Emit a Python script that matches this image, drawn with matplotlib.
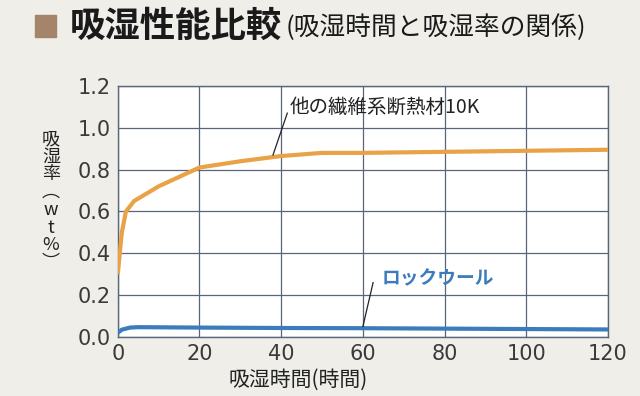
import numpy as np
from matplotlib import pyplot as plt
from matplotlib.patches import Rectangle

# hours of moisture absorption vs. absorption rate (wt%)
hours_fiber = [0, 1, 2, 4, 10, 20, 30, 40, 50, 60, 80, 100, 120]
rate_fiber = [0.30, 0.50, 0.60, 0.65, 0.72, 0.81, 0.84, 0.865, 0.88, 0.88, 0.885, 0.89, 0.895]
hours_rock = [0, 1, 3, 5, 20, 40, 60, 80, 100, 120]
rate_rock = [0.02, 0.035, 0.045, 0.047, 0.045, 0.043, 0.042, 0.04, 0.038, 0.036]

x_ticks = [0, 20, 40, 60, 80, 100, 120]
y_ticks = [0.0, 0.2, 0.4, 0.6, 0.8, 1.0, 1.2]

label_fiber = "他の繊維系断熱材10K"
label_rock = "ロックウール"

plt.rcParams["font.family"] = ["Noto Sans CJK JP", "DejaVu Sans"]

bg = "#efeee9"
orange = "#e9a246"
blue = "#3c7cbc"
grid_col = "#59667a"

fig = plt.figure(figsize=(6.4, 3.96), dpi=100, facecolor=bg)
ax = fig.add_axes([0.184, 0.149, 0.766, 0.634])
ax.set_facecolor("white")

ax.plot(hours_fiber, rate_fiber, color=orange, lw=3, solid_capstyle="butt", zorder=3)
ax.plot(hours_rock, rate_rock, color=blue, lw=3, solid_capstyle="butt", zorder=3)

ax.set_xlim(0, 120)
ax.set_ylim(0, 1.2)
ax.set_xticks(x_ticks)
ax.set_yticks(y_ticks)
ax.set_yticklabels([f"{v:.1f}" for v in y_ticks])
ax.grid(True, color=grid_col, lw=0.9)
ax.set_axisbelow(True)
for s in ax.spines.values():
    s.set_color(grid_col)
    s.set_linewidth(1.0)
ax.tick_params(length=0, labelsize=15, labelcolor="#3a3a3a", pad=5)
for lab in ax.get_xticklabels() + ax.get_yticklabels():
    lab.set_family(["DejaVu Sans"])

# annotations
ax.text(42, 1.1, label_fiber, fontsize=14, color="#222222", va="center", ha="left")
ax.plot([41.5, 38], [1.07, 0.87], color="#222222", lw=0.9, zorder=4)
ax.text(64.5, 0.28, label_rock, fontsize=13.5, color=blue, fontweight="bold", va="center", ha="left")
ax.plot([62.5, 60], [0.26, 0.05], color="#222222", lw=0.9, zorder=4)

# title
fig.patches.append(Rectangle((35 / 640, 1 - 37 / 396), 21 / 640, 22 / 396,
                             transform=fig.transFigure, color="#a4856a"))
fig.text(70 / 640, 1 - 26 / 396, "吸湿性能比較", fontsize=25.5, fontweight="bold",
         color="#1a1a1a", va="center", ha="left")
fig.text(286 / 640, 1 - 28 / 396, "(吸湿時間と吸湿率の関係)", fontsize=18.5,
         color="#1a1a1a", va="center", ha="left")

# axis labels
fig.text(51 / 640, 1 - 201 / 396, "吸\n湿\n率\n︵\nw\nt\n%\n︶", fontsize=13,
         color="#222222", va="center", ha="center", linespacing=0.98)
fig.text(298 / 640, 1 - 380 / 396, "吸湿時間(時間)", fontsize=15,
         color="#222222", va="center", ha="center")

fig.savefig("out.png", dpi=100, facecolor=bg)
